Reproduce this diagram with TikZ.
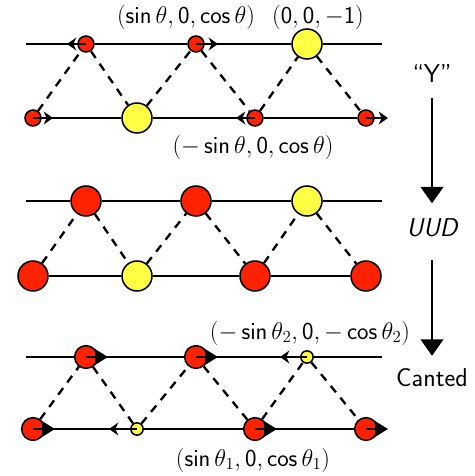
\documentclass[tikz,border=0pt]{standalone}
\usepackage{tikz}
\usetikzlibrary{arrows.meta,positioning}
\definecolor{spinred}{HTML}{FF2200}
\definecolor{spinyellow}{HTML}{FFFF44}

\begin{document}
\begin{tikzpicture}[x=0.03cm,y=-0.03cm,
  atom/.style={circle,draw=black,line width=1.3pt,inner sep=0pt},
  redsmall/.style={atom,fill=spinred,minimum size=0.48cm},
  redbig/.style={atom,fill=spinred,minimum size=0.9cm},
  redmid/.style={atom,fill=spinred,minimum size=0.68cm},
  yellowbig/.style={atom,fill=spinyellow,minimum size=0.9cm},
  yellowsmall/.style={atom,fill=spinyellow,minimum size=0.37cm},
  chain/.style={black,line width=2pt},
  dimer/.style={black,line width=2pt,dash pattern=on 7pt off 6pt},
  spin/.style={black,line width=2pt,-{Stealth[length=8pt,width=11pt]}},
  bigspin/.style={black,line width=2pt,-{Triangle[length=11pt,width=13pt]}},
  flow/.style={black,line width=2.5pt,-{Triangle[length=14pt,width=19pt]}},
  lab/.style={font=\huge\sffamily,inner sep=1pt},
  phase/.style={font=\fontsize{22}{26}\selectfont\sffamily,inner sep=1pt}
]
  \useasboundingbox (0,0) rectangle (474,476);

  % "Y" state
  \node[redsmall]  (Yt1) at (86,44)   {};
  \node[redsmall]  (Yt2) at (196,44)  {};
  \node[yellowbig] (Yt3) at (307,44)  {};
  \node[redsmall]  (Yb1) at (33,118)  {};
  \node[yellowbig] (Yb2) at (137,118) {};
  \node[redsmall]  (Yb3) at (255,118) {};
  \node[redsmall]  (Yb4) at (366,118) {};
  \coordinate (YL) at (26,44);
  \coordinate (YR) at (382,44);

  % UUD state
  \node[redbig]    (Ut1) at (86,201)  {};
  \node[redbig]    (Ut2) at (196,201) {};
  \node[yellowbig] (Ut3) at (307,201) {};
  \node[redbig]    (Ub1) at (33,276)  {};
  \node[yellowbig] (Ub2) at (137,276) {};
  \node[redbig]    (Ub3) at (255,276) {};
  \node[redbig]    (Ub4) at (366,276) {};
  \coordinate (UL) at (26,201);
  \coordinate (UR) at (382,201);

  % Canted state
  \node[redmid]      (Ct1) at (86,357)  {};
  \node[redmid]      (Ct2) at (196,357) {};
  \node[yellowsmall] (Ct3) at (307,357) {};
  \node[redmid]      (Cb1) at (33,429)  {};
  \node[yellowsmall] (Cb2) at (137,429) {};
  \node[redmid]      (Cb3) at (255,429) {};
  \node[redmid]      (Cb4) at (366,429) {};
  \coordinate (CL) at (26,357);
  \coordinate (CR) at (382,357);

  % chains and zigzag bonds
  \foreach \s in {Y,U,C}{
    \draw[chain] (\s L) -- (\s t1) -- (\s t2) -- (\s t3) -- (\s R);
    \draw[chain] (\s b1) -- (\s b2) -- (\s b3) -- (\s b4);
    \foreach \a/\b in {b1/t1,t1/b2,b2/t2,t2/b3,b3/t3,t3/b4}{
      \draw[dimer] (\s\a) -- (\s\b);
    }
  }

  % spins of the Y state
  \draw[spin] (Yt1.center) -- +(-19,0);
  \draw[spin] (Yt2.center) -- +(22,0);
  \draw[spin] (Yb1.center) -- +(20,0);
  \draw[spin] (Yb3.center) -- +(-19,0);
  \draw[spin] (Yb4.center) -- +(22,0);

  % spins of the canted state
  \foreach \n in {Ct1,Ct2,Cb1,Cb3,Cb4}{
    \draw[bigspin] (\n.center) -- +(22,0);
  }
  \draw[spin] (Ct3.center) -- +(-27,0);
  \draw[spin] (Cb2.center) -- +(-28,0);

  % spin labels
  \node[lab] (sY1) at (186,17)  {$(\mathsf{sin}\,\theta,\mathsf{0},\mathsf{cos}\,\theta)$};
  \node[lab] (sY2) at (318,17)  {$(\mathsf{0},\mathsf{0},-\mathsf{1})$};
  \node[lab] (sY3) at (253,147) {$(-\,\mathsf{sin}\,\theta,\mathsf{0},\mathsf{cos}\,\theta)$};
  \node[lab] (sC1) at (310,333) {$(-\,\mathsf{sin}\,\theta_2,\mathsf{0},-\,\mathsf{cos}\,\theta_2)$};
  \node[lab] (sC2) at (253,460) {$(\mathsf{sin}\,\theta_1,\mathsf{0},\mathsf{cos}\,\theta_1)$};

  % phase sequence
  \node[phase] (pY) at (432,74)  {``Y''};
  \node[phase] (pU) at (432,228) {\itshape UUD};
  \node[phase] (pC) at (432,378) {Canted};
  \draw[flow,shorten <=12pt,shorten >=12pt] (pY) -- (pU);
  \draw[flow,shorten <=18pt,shorten >=10pt] (pU) -- (pC);
\end{tikzpicture}
\end{document}
